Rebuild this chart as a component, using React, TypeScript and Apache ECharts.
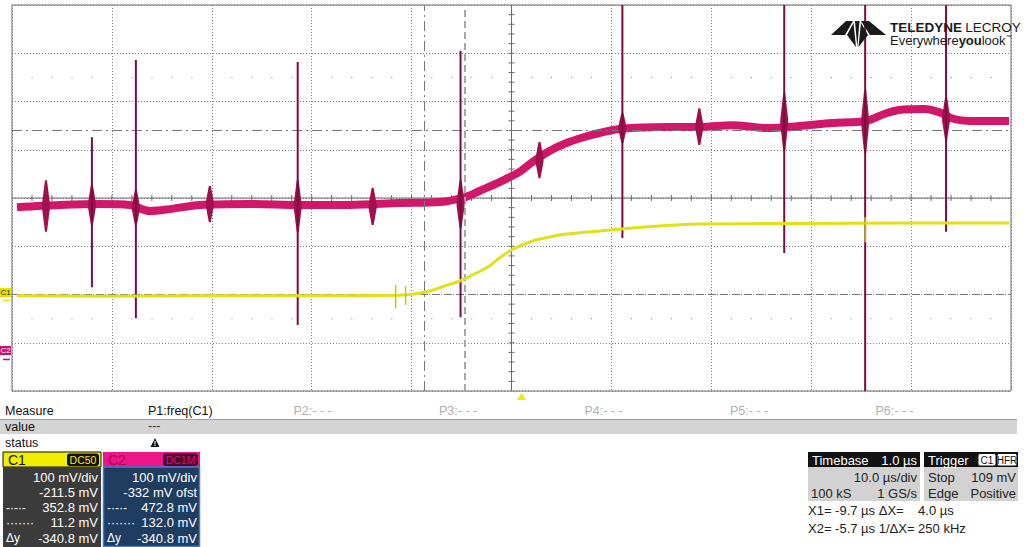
import React, { useEffect, useRef } from "react";
import * as echarts from "echarts";

// ---- axes (time in µs, 10 µs/div, screen centre at -1.0 µs; 100 mV/div) ----
const TIME_MIN = -51;
const TIME_MAX = 49;
const C1_MIN = -188.5; // C1 offset -211.5 mV
const C1_MAX = 611.5;
const C2_MIN = -68; // C2 offset -332 mV
const C2_MAX = 732;

// ---- C1 (yellow) trace ----
const c1Time = [-50.5, -42.2, -32.2, -22.2, -12.2, -10.7, -9.2, -7.7, -6.2, -4.7, -3.2, -2.2, -1.0, 1.1, 2.8, 4.5, 7.8, 10.0, 14.5, 17.8, 27.8, 37.8, 48.8];
const c1Values = [9, 8, 9, 9, 10, 12.5, 18.8, 29, 39.5, 54, 70.6, 87, 103.7, 122.4, 130.7, 136.9, 143.1, 147.3, 154.5, 157.6, 158.7, 159.7, 159.7];
const c1SpikeTime = [-12.6, -11.6, 34.4];
const c1SpikeTop = [31, 29, 172];
const c1SpikeBottom = [-17, -10, 120];

// ---- C2 (magenta) trace ----
const c2Time = [-50.5, -46.2, -42.2, -39.2, -37.2, -35.2, -32.2, -27.2, -22.2, -17.2, -12.2, -8.2, -5.6, -4.2, -2.2, -0.2, 1.1, 2.8, 4.5, 6.3, 7.8, 9.8, 14.5, 17.8, 21.1, 24.5, 27.8, 31.1, 34.5, 36.3, 37.8, 40.3, 41.8, 43.3, 44.8, 48.8];
const c2Values = [313, 317.5, 319.6, 317.5, 305, 309, 317.5, 319.6, 317.5, 317.5, 321.6, 323.7, 334, 346.5, 365, 386, 406.6, 429.4, 446, 458.4, 466.7, 475, 479, 479, 483, 477, 481, 487.4, 491.6, 506, 514.4, 516.5, 510, 495.7, 491.6, 491.6];
const spikeTime = [-43.0, -38.6, -22.4, -6.1, 10.1, 26.3, 34.4, 42.5];
const spikeTop = [458, 618, 614, 637, 732, 732, 732, 732];
const spikeBottom = [147, 83, 69, 85, 249, 218, -68, 262];
const burstTime = [-47.6, -43.0, -38.6, -31.2, -22.4, -14.9, -6.1, 1.8, 10.1, 17.8, 26.3, 34.4, 42.5];
const burstTop = [369, 359, 348, 357, 369, 353, 369, 448, 508, 518, 549, 556, 541];
const burstBottom = [262, 276, 276, 282, 262, 276, 270, 373, 446, 442, 431, 425, 452];

// ---- cursors ----
const c1Cursors = [352.8, 11.2];
const timeCursors = [-9.7, -5.7];
const triggerTime = [0];

// ---- panel texts ----
const measureLabels = ["P1:freq(C1)", "P2:- - -", "P3:- - -", "P4:- - -", "P5:- - -", "P6:- - -"];
const c1Info = ["100 mV/div", "-211.5 mV", "352.8 mV", "11.2 mV", "-340.8 mV"];
const c2Info = ["100 mV/div", "-332 mV ofst", "472.8 mV", "132.0 mV", "-340.8 mV"];
const infoMarks = ["", "", "-·-·-", "·······", "Δy"];
const timebaseInfo = ["1.0 µs", "10.0 µs/div", "100 kS", "1 GS/s"];
const triggerInfo = ["Stop", "109 mV", "Edge", "Positive"];
const cursorReadout = ["X1= -9.7 µs ΔX=    4.0 µs", "X2= -5.7 µs 1/ΔX= 250 kHz"];

const FONT = "'Liberation Sans', Arial, sans-serif";

function txt(x: number, y: number, text: string, o: any = {}) {
  return {
    type: "text",
    x,
    y,
    z: 100,
    silent: true,
    style: {
      text,
      fill: o.fill || "#111",
      fontSize: o.size || 12.5,
      fontFamily: FONT,
      fontWeight: o.weight || "normal",
      align: o.align || "left",
      verticalAlign: "middle",
    },
  };
}
function rect(x: number, y: number, w: number, h: number, fill: string, o: any = {}) {
  return {
    type: "rect",
    z: 90,
    silent: true,
    shape: { x, y, width: w, height: h, r: o.r || 0 },
    style: { fill, stroke: o.stroke || null, lineWidth: o.lw || 1 },
  };
}

export default function App() {
  const ref = useRef<HTMLDivElement>(null);
  useEffect(() => {
    const chart = echarts.init(ref.current!, null, { renderer: "svg" });

    const c1Data = c1Time.map((t, i) => [t, c1Values[i]]);
    const c2Data = c2Time.map((t, i) => [t, c2Values[i]]);
    const spikes = spikeTime.map((t, i) => [t, spikeTop[i], spikeBottom[i]]);
    const bursts = burstTime.map((t, i) => [t, burstTop[i], burstBottom[i]]);
    const c1Spikes = c1SpikeTime.map((t, i) => [t, c1SpikeTop[i], c1SpikeBottom[i]]);

    const spikeRender = (color: string, w: number) => (params: any, api: any) => {
      const a = api.coord([api.value(0), api.value(1)]);
      const b = api.coord([api.value(0), api.value(2)]);
      return {
        type: "line",
        shape: { x1: a[0], y1: a[1], x2: b[0], y2: b[1] },
        style: { stroke: color, lineWidth: w },
      };
    };

    const gridStroke = "#6c6c6c";
    const crossRender = (params: any, api: any) => {
      const children: any[] = [];
      const l = api.coord([0, 4]);
      const r = api.coord([10, 4]);
      const t = api.coord([5, 8]);
      const b = api.coord([5, 0]);
      const cy = l[1];
      const cx = t[0];
      const st = { stroke: gridStroke, lineWidth: 1 };
      children.push({ type: "line", shape: { x1: l[0], y1: cy, x2: r[0], y2: cy }, style: st });
      children.push({ type: "line", shape: { x1: cx, y1: t[1], x2: cx, y2: b[1] }, style: st });
      for (let i = 1; i < 50; i++) {
        const p = api.coord([i * 0.2, 4]);
        children.push({ type: "line", shape: { x1: p[0], y1: cy - 3, x2: p[0], y2: cy + 3 }, style: st });
      }
      for (let i = 1; i < 40; i++) {
        const p = api.coord([5, i * 0.2]);
        children.push({ type: "line", shape: { x1: cx - 3, y1: p[1], x2: cx + 3, y2: p[1] }, style: st });
      }
      [1.5, 6.5].forEach((row) => {
        for (let i = 1; i < 50; i++) {
          if (i % 5 === 0) continue;
          const p = api.coord([i * 0.2, row]);
          children.push({ type: "rect", shape: { x: p[0] - 0.5, y: p[1] - 0.5, width: 1.2, height: 1.2 }, style: { fill: "#9a9a9a" } });
        }
      });
      return { type: "group", children };
    };

    const triRender = (params: any, api: any) => {
      const p = api.coord([api.value(0), C1_MIN]);
      return {
        type: "polygon",
        shape: { points: [[p[0], p[1] + 2], [p[0] - 4.5, p[1] + 9], [p[0] + 4.5, p[1] + 9]] },
        style: { fill: "#f2ea00" },
      };
    };

    const burstRender = (params: any, api: any) => {
      const a = api.coord([api.value(0), api.value(1)]);
      const b = api.coord([api.value(0), api.value(2)]);
      const x = a[0];
      const mid = (a[1] + b[1]) / 2;
      return {
        type: "polygon",
        shape: { points: [[x - 4, mid - 2], [x - 1, a[1]], [x + 1, a[1]], [x + 4, mid - 2], [x + 4, mid + 2], [x + 1, b[1]], [x - 1, b[1]], [x - 4, mid + 2]] },
        style: { fill: "#a0104e" },
      };
    };

    const graphic: any[] = [];
    // measure area
    graphic.push(rect(0, 419, 1017, 15, "#d4d4d4"));
    graphic.push({ type: "line", z: 91, silent: true, shape: { x1: 0, y1: 419.5, x2: 1017, y2: 419.5 }, style: { stroke: "#a0a0a0", lineWidth: 1 } });
    graphic.push(txt(5, 411, "Measure"));
    measureLabels.forEach((m, i) => graphic.push(txt(148 + i * 145.5, 411, m, { fill: i === 0 ? "#111" : "#b0b0b0" })));
    graphic.push(txt(5, 427, "value"));
    graphic.push(txt(148, 426, "---", { fill: "#333" }));
    graphic.push(txt(5, 443, "status"));
    graphic.push({ type: "polygon", z: 95, silent: true, shape: { points: [[155, 438], [150.5, 447], [159.5, 447]] }, style: { fill: "#111" } });
    graphic.push(txt(155, 443.5, "!", { fill: "#fff", size: 7, align: "center", weight: "bold" }));

    // C1 panel
    graphic.push(rect(3, 452, 98, 15, "#f2ee00", { stroke: "#111" }));
    graphic.push(rect(3, 467, 98, 80, "#3b3b3b"));
    graphic.push(txt(8, 460, "C1", { size: 14 }));
    graphic.push(rect(67, 453.5, 32, 12.5, "#111", { r: 3 }));
    graphic.push(txt(83, 460, "DC50", { fill: "#f2ee00", size: 10.5, align: "center" }));
    // C2 panel
    graphic.push(rect(103, 452, 97, 15, "#ee158a"));
    graphic.push(rect(103.5, 467, 96, 79.5, "#1f3c61", { stroke: "#3d7fcc", lw: 1.5 }));
    graphic.push(txt(108, 460, "C2", { size: 14, fill: "#b2005a" }));
    graphic.push(rect(163, 453.5, 35, 12.5, "#4d0a2c", { r: 3 }));
    graphic.push(txt(180.5, 460, "DC1M", { fill: "#d0127c", size: 10.5, align: "center" }));
    const rowY = [477, 492.5, 507.5, 522.5, 538];
    c1Info.forEach((s, i) => graphic.push(txt(98, rowY[i], s, { fill: "#fff", size: 13, align: "right" })));
    c2Info.forEach((s, i) => graphic.push(txt(197, rowY[i], s, { fill: "#fff", size: 13, align: "right" })));
    infoMarks.forEach((s, i) => {
      if (!s) return;
      graphic.push(txt(6, rowY[i], s, { fill: "#fff", size: 12 }));
      graphic.push(txt(107, rowY[i], s, { fill: "#fff", size: 12 }));
    });

    // Timebase / trigger
    graphic.push(rect(808, 452, 112, 15, "#111"));
    graphic.push(rect(808, 467, 112, 34, "#d2d2d2"));
    graphic.push(txt(812, 460, "Timebase", { fill: "#fff", size: 13 }));
    graphic.push(txt(917, 460, timebaseInfo[0], { fill: "#fff", size: 13, align: "right" }));
    graphic.push(txt(917, 477, timebaseInfo[1], { size: 13, align: "right", fill: "#222" }));
    graphic.push(txt(811, 493, timebaseInfo[2], { size: 13, fill: "#222" }));
    graphic.push(txt(917, 493, timebaseInfo[3], { size: 13, align: "right", fill: "#222" }));
    graphic.push(rect(924, 452, 94, 15, "#111"));
    graphic.push(rect(924, 467, 94, 34, "#d2d2d2"));
    graphic.push(txt(928, 460, "Trigger", { fill: "#fff", size: 13 }));
    graphic.push(rect(978, 453.5, 18, 12.5, "#fff", { r: 2, stroke: "#111" }));
    graphic.push(txt(987, 460, "C1", { size: 10, align: "center" }));
    graphic.push(rect(997, 453.5, 20, 12.5, "#fff", { r: 2, stroke: "#111" }));
    graphic.push(txt(1007, 460, "HFR", { size: 10, align: "center" }));
    graphic.push(txt(928, 477, triggerInfo[0], { size: 13, fill: "#222" }));
    graphic.push(txt(1016, 477, triggerInfo[1], { size: 13, align: "right", fill: "#222" }));
    graphic.push(txt(928, 493, triggerInfo[2], { size: 13, fill: "#222" }));
    graphic.push(txt(1016, 493, triggerInfo[3], { size: 13, align: "right", fill: "#222" }));
    graphic.push(txt(808, 510, cursorReadout[0], { size: 13, fill: "#222" }));
    graphic.push(txt(808, 528, cursorReadout[1], { size: 13, fill: "#222" }));

    // channel markers on the left
    graphic.push(rect(0, 288, 11, 9, "#e8e000"));
    graphic.push(txt(0.5, 292.5, "C1", { size: 8, fill: "#333" }));
    graphic.push({ type: "line", z: 95, silent: true, shape: { x1: 3, y1: 300.5, x2: 10, y2: 300.5 }, style: { stroke: "#e8e000", lineWidth: 1.5 } });
    graphic.push(rect(0, 346, 11, 9, "#c8106a"));
    graphic.push(txt(0.5, 350.5, "C2", { size: 8, fill: "#fff" }));
    graphic.push({ type: "line", z: 95, silent: true, shape: { x1: 3, y1: 359.5, x2: 10, y2: 359.5 }, style: { stroke: "#c8106a", lineWidth: 1.5 } });

    // logo
    const logoFill = "#1a1a1a";
    const poly = (pts: number[][]) => ({ type: "polygon", z: 95, silent: true, shape: { points: pts }, style: { fill: logoFill } });
    graphic.push(poly([[831, 35], [846, 21], [853, 21], [845, 35]]));
    graphic.push(poly([[861, 21], [869, 21], [886, 35], [870, 35]]));
    graphic.push(poly([[847, 35], [853.5, 23], [856, 47]]));
    graphic.push(poly([[855, 21], [859.5, 21], [857.3, 47]]));
    graphic.push(poly([[861, 23], [868, 35], [858.5, 47]]));
    graphic.push({
      type: "text", x: 890, y: 27, z: 100, silent: true,
      style: {
        text: "{b|TELEDYNE} {n|LECROY}",
        verticalAlign: "middle",
        rich: {
          b: { fontFamily: FONT, fontSize: 13.5, fontWeight: "bold", fill: "#1a1a1a" },
          n: { fontFamily: FONT, fontSize: 13.5, fill: "#1a1a1a" },
        },
      },
    });
    graphic.push({
      type: "text", x: 890, y: 40, z: 100, silent: true,
      style: {
        text: "{n|Everywhere}{b|you}{n|look}{s|™}",
        verticalAlign: "middle",
        rich: {
          b: { fontFamily: FONT, fontSize: 13, fontWeight: "bold", fill: "#1a1a1a" },
          n: { fontFamily: FONT, fontSize: 13, fill: "#1a1a1a" },
          s: { fontFamily: FONT, fontSize: 6, fill: "#1a1a1a", verticalAlign: "top" },
        },
      },
    });

    const hidden = { show: false };
    chart.setOption({
      animation: false,
      backgroundColor: "#ffffff",
      grid: { left: 12, top: 5, width: 999, height: 386, show: true, borderColor: "#6a6a6a", borderWidth: 1, backgroundColor: "transparent" },
      xAxis: [
        { type: "value", min: TIME_MIN, max: TIME_MAX, show: false },
        {
          type: "value", min: 0, max: 10, interval: 1,
          axisLine: hidden, axisTick: hidden, axisLabel: hidden,
          splitLine: { show: true, lineStyle: { type: [1, 2], color: "#7c7c7c", width: 1 } },
        },
      ],
      yAxis: [
        { type: "value", min: C1_MIN, max: C1_MAX, show: false },
        { type: "value", min: C2_MIN, max: C2_MAX, show: false },
        {
          type: "value", min: 0, max: 8, interval: 1,
          axisLine: hidden, axisTick: hidden, axisLabel: hidden,
          splitLine: { show: true, lineStyle: { type: [1, 2], color: "#7c7c7c", width: 1 } },
        },
      ],
      series: [
        { type: "custom", xAxisIndex: 1, yAxisIndex: 2, data: [[5, 4]], renderItem: crossRender, silent: true, z: 1 },
        {
          type: "line", xAxisIndex: 0, yAxisIndex: 1, data: c2Data, smooth: 0.3, showSymbol: false, silent: true, z: 3,
          lineStyle: { color: "#d1176a", width: 8 },
        },
        { type: "custom", xAxisIndex: 0, yAxisIndex: 1, data: bursts, renderItem: burstRender, silent: true, z: 5 },
        { type: "custom", xAxisIndex: 0, yAxisIndex: 1, data: spikes, renderItem: spikeRender("#7c0c40", 2), silent: true, z: 6, clip: true },
        {
          type: "line", xAxisIndex: 0, yAxisIndex: 0, data: c1Data, smooth: 0.3, showSymbol: false, silent: true, z: 7,
          lineStyle: { color: "#e2e018", width: 3 },
          markLine: {
            silent: true, symbol: "none", label: { show: false },
            data: [
              { yAxis: c1Cursors[0], lineStyle: { type: [10, 4, 2, 4], color: "#777", width: 1 } },
              { yAxis: c1Cursors[1], lineStyle: { type: [8, 4], color: "#777", width: 1 } },
              { xAxis: timeCursors[0], lineStyle: { type: [10, 4, 2, 4], color: "#777", width: 1 } },
              { xAxis: timeCursors[1], lineStyle: { type: [7, 4], color: "#a8a8a8", width: 2 } },
            ],
          },
        },
        { type: "custom", xAxisIndex: 0, yAxisIndex: 0, data: c1Spikes, renderItem: spikeRender("#c8c400", 1.5), silent: true, z: 8 },
        { type: "custom", xAxisIndex: 0, yAxisIndex: 0, data: triggerTime.map((t) => [t]), renderItem: triRender, silent: true, z: 8, clip: false },
      ],
      graphic,
    });
    return () => chart.dispose();
  }, []);
  return <div ref={ref} style={{ position: "fixed", left: 0, top: 0, width: 1024, height: 547, background: "#fff" }} />;
}
